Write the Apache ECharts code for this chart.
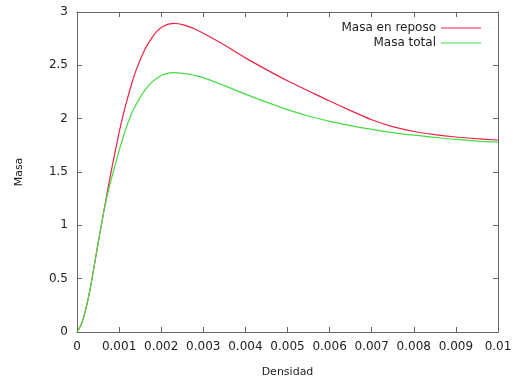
<!DOCTYPE html>
<html><head><meta charset="utf-8">
<script src="https://cdn.jsdelivr.net/npm/echarts@6/dist/echarts.min.js"></script>
<style>html,body{margin:0;padding:0;background:#fff}#c{width:513px;height:379px}</style>
</head><body><div id="c"></div>
<script>
const densidad = [0,0.0001,0.0002,0.0003,0.0004,0.0005,0.0006,0.0007,0.0008,0.0009,0.001,0.0011,0.0012,0.0013,0.0014,0.0015,0.0016,0.0017,0.0018,0.0019,0.002,0.0021,0.0022,0.0023,0.0024,0.0025,0.0026,0.0028,0.003,0.0035,0.004,0.0045,0.005,0.0055,0.006,0.0065,0.007,0.0075,0.008,0.0085,0.009,0.0095,0.01];
const masaReposo = [0,0.07,0.2,0.38,0.6,0.83,1.05,1.27,1.48,1.68,1.87,2.04,2.19,2.33,2.45,2.55,2.64,2.71,2.77,2.82,2.855,2.875,2.888,2.893,2.89,2.882,2.87,2.84,2.80,2.69,2.57,2.46,2.355,2.26,2.165,2.075,1.99,1.925,1.88,1.85,1.828,1.812,1.80];
const masaTotal = [0,0.07,0.2,0.38,0.6,0.83,1.05,1.25,1.41,1.56,1.70,1.83,1.95,2.05,2.13,2.20,2.26,2.31,2.35,2.38,2.405,2.42,2.43,2.432,2.43,2.425,2.42,2.405,2.385,2.31,2.23,2.155,2.085,2.025,1.975,1.935,1.90,1.87,1.845,1.825,1.805,1.79,1.78];
const xTicks = [0,0.001,0.002,0.003,0.004,0.005,0.006,0.007,0.008,0.009,0.01];
const yTicks = [0,0.5,1,1.5,2,2.5,3];
const seriesNames = ['Masa en reposo','Masa total'];

const font = 'DejaVu Sans';
const axisCol = '#666';
const chart = echarts.init(document.getElementById('c'), null, {renderer:'canvas'});
const pairs = a => densidad.map((d,i)=>[d,a[i]]);
const baseX = {type:'value', min:0, max:0.01, interval:0.001,
  axisLine:{show:true,onZero:false,lineStyle:{color:axisCol,width:1}},
  axisTick:{show:true,inside:true,length:5,lineStyle:{color:axisCol}},
  splitLine:{show:false}};
const baseY = {type:'value', min:0, max:3, interval:0.5,
  axisLine:{show:true,onZero:false,lineStyle:{color:axisCol,width:1}},
  axisTick:{show:true,inside:true,length:5,lineStyle:{color:axisCol}},
  splitLine:{show:false}};
chart.setOption({
  animation:false,
  backgroundColor:'#fff',
  textStyle:{fontFamily:font},
  grid:{left:77,right:15,top:12,bottom:47,containLabel:false,outerBoundsMode:'none'},
  legend:{
    data:seriesNames, orient:'vertical', right:27, top:17, align:'right',
    itemGap:3, itemWidth:40, itemHeight:1, icon:'rect',
    textStyle:{fontFamily:font,fontSize:12,color:'#222',padding:[0,0,0,0]}
  },
  xAxis:[
    Object.assign({}, baseX, {position:'bottom',
      name:'Densidad', nameLocation:'middle', nameGap:35,
      nameTextStyle:{fontFamily:font,fontSize:11,color:'#222'},
      axisLabel:{show:true,margin:9,fontSize:12,color:'#222',fontFamily:font,
        formatter:v=>{const t=xTicks.find(x=>Math.abs(x-v)<1e-9);return t===undefined?'':String(t);}}}),
    Object.assign({}, baseX, {position:'top', axisLabel:{show:false}})
  ],
  yAxis:[
    Object.assign({}, baseY, {position:'left',
      name:'Masa', nameLocation:'middle', nameRotate:90, nameGap:52,
      nameTextStyle:{fontFamily:font,fontSize:11,color:'#222'},
      axisLabel:{show:true,margin:9,fontSize:12,color:'#222',fontFamily:font,
        formatter:v=>{const t=yTicks.find(x=>Math.abs(x-v)<1e-9);return t===undefined?'':String(t);}}}),
    Object.assign({}, baseY, {position:'right', axisLabel:{show:false}})
  ],
  series:[
    {name:seriesNames[0], type:'line', data:pairs(masaReposo), smooth:0.3, showSymbol:false,
      lineStyle:{color:'#ee2244',width:1.2}, itemStyle:{color:'#ee2244'}},
    {name:seriesNames[1], type:'line', data:pairs(masaTotal), smooth:0.3, showSymbol:false,
      lineStyle:{color:'#44dd44',width:1.2}, itemStyle:{color:'#44dd44'}}
  ]
});
</script></body></html>
